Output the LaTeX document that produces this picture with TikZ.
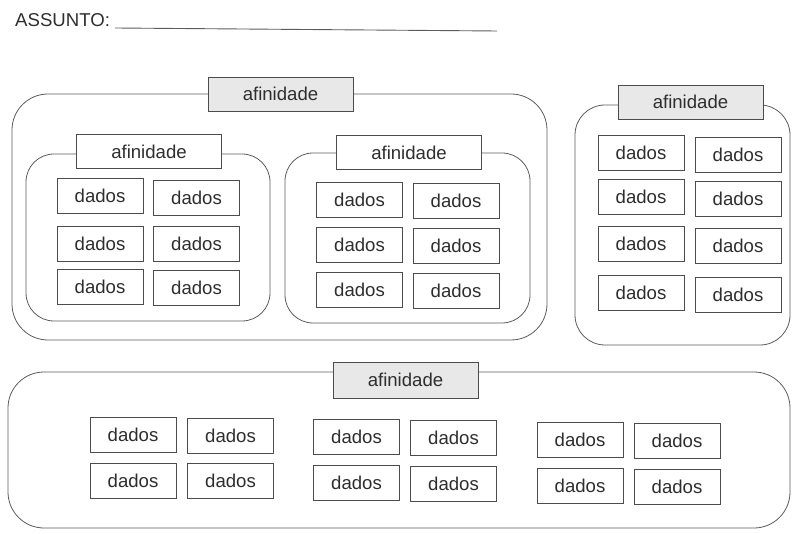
\documentclass[tikz,border=0pt]{standalone}
\usepackage{fontspec}
\setmainfont{Liberation Sans}
\definecolor{inkline}{rgb}{0.36,0.36,0.36}
\definecolor{inkbox}{rgb}{0.30,0.30,0.30}
\definecolor{inktext}{rgb}{0.18,0.18,0.18}
\definecolor{headshade}{rgb}{0.91,0.91,0.91}
\begin{document}
\begin{tikzpicture}[x=1pt,y=-1pt,
  every node/.style={font=\fontsize{18.6}{22}\selectfont, text=inktext},
  group/.style={draw=inkline, line width=0.8pt, rounded corners=#1, inner sep=0pt},
  head/.style={draw=inkbox, line width=0.8pt, fill=white, inner sep=0pt,
               minimum width=145pt, minimum height=34pt},
  shadedhead/.style={head, fill=headshade},
  datum/.style={draw=inkbox, line width=0.8pt, fill=white, inner sep=0pt,
                minimum width=86pt, minimum height=35pt}]
\useasboundingbox (0,0) rectangle (792,534);

% title line
\node[anchor=base west, inner sep=0pt] (assunto) at (15,27) {ASSUNTO:};
\coordinate (lineL) at (115,28);
\coordinate (lineR) at (497,31);
\draw[inkline, line width=0.9pt] (lineL) -- (lineR);

% group frames
\node[group=36pt, minimum width=535pt, minimum height=246pt] (gA) at (279.5,217) {};
\node[group=28pt, minimum width=244pt, minimum height=167pt] (gB) at (148,237.5) {};
\node[group=28pt, minimum width=245pt, minimum height=170pt] (gC) at (407.5,238) {};
\node[group=30pt, minimum width=215pt, minimum height=240pt] (gD) at (682.5,225) {};
\node[group=36pt, minimum width=782pt, minimum height=156pt] (gE) at (399,450) {};

% group headings
\node[shadedhead] (hA) at (280.5,94) {afinidade};
\node[head] (hB) at (149,151.5) {afinidade};
\node[head] (hC) at (409,152.5) {afinidade};
\node[shadedhead] (hD) at (690.5,102) {afinidade};
\node[shadedhead, minimum height=36pt] (hE) at (405.5,380) {afinidade};

% left inner group
\node[datum] (b11) at (100,196) {dados};
\node[datum] (b12) at (196.5,198) {dados};
\node[datum] (b21) at (100,243.5) {dados};
\node[datum] (b22) at (196.5,244) {dados};
\node[datum] (b31) at (100,286.5) {dados};
\node[datum] (b32) at (196.5,288) {dados};

% middle inner group
\node[datum] (c11) at (359.5,199.5) {dados};
\node[datum] (c12) at (456,200.5) {dados};
\node[datum] (c21) at (359.5,245) {dados};
\node[datum] (c22) at (456,246) {dados};
\node[datum] (c31) at (359.5,289.5) {dados};
\node[datum] (c32) at (456,290.5) {dados};

% right group
\node[datum] (d11) at (641,153) {dados};
\node[datum] (d12) at (738,155) {dados};
\node[datum] (d21) at (641,197) {dados};
\node[datum] (d22) at (738,198.5) {dados};
\node[datum] (d31) at (641,244) {dados};
\node[datum] (d32) at (738,245.5) {dados};
\node[datum] (d41) at (641,293) {dados};
\node[datum] (d42) at (738,294.5) {dados};

% bottom group
\node[datum] (e11) at (133,434.5) {dados};
\node[datum] (e12) at (230.5,435.5) {dados};
\node[datum] (e13) at (356.5,437) {dados};
\node[datum] (e14) at (453.5,437.5) {dados};
\node[datum] (e15) at (580,440) {dados};
\node[datum] (e16) at (677,441) {dados};
\node[datum] (e21) at (133,480.5) {dados};
\node[datum] (e22) at (230.5,481) {dados};
\node[datum] (e23) at (356.5,483) {dados};
\node[datum] (e24) at (453.5,483.5) {dados};
\node[datum] (e25) at (580,485.5) {dados};
\node[datum] (e26) at (677,486.5) {dados};
\end{tikzpicture}
\end{document}
